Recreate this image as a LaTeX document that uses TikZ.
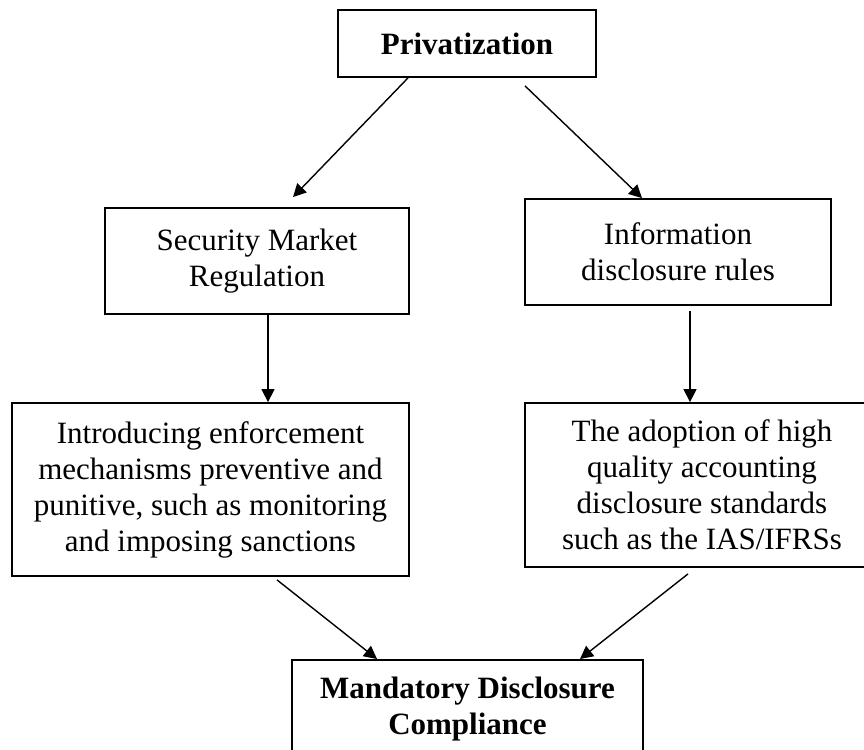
\documentclass[tikz,border=0pt]{standalone}
\usepackage{fontspec}
\setmainfont{Liberation Serif}
\usetikzlibrary{arrows.meta}
\begin{document}
\begin{tikzpicture}[x=1pt, y=-1pt,
  every node/.style={font=\fontsize{31}{36}\selectfont},
  box/.style={draw, line width=1.8pt, inner sep=0pt, align=center},
  link/.style={line width=1.4pt, -{Triangle[length=13pt, width=13pt]}}]
\useasboundingbox (0,0) rectangle (864,749);
\clip (0,0) rectangle (864,749);

% top node
\node[box, minimum width=258, minimum height=67] (priv) at (467,43.5) {\textbf{Privatization}};

% second row
\node[box, minimum width=304, minimum height=106] (smr) at (257,261) {Security Market\\Regulation};
\node[box, minimum width=306, minimum height=106] (info) at (678,252) {Information\\disclosure rules};

% third row
\node[box, minimum width=397, minimum height=173] (intro) at (210.5,489.5)
  {Introducing enforcement\\mechanisms preventive and\\punitive, such as monitoring\\and imposing sanctions};
\node[box, minimum width=354, minimum height=164] (adopt) at (702,485)
  {The adoption of high\\quality accounting\\disclosure standards\\such as the IAS/IFRSs};

% bottom node, running past the lower edge
\node[box, minimum width=351, minimum height=98, anchor=north] (mand) at (467.5,659)
  {\textbf{Mandatory Disclosure}\\\textbf{Compliance}};

% connectors
\draw[link] ([xshift=-59pt]priv.south) -- ([xshift=36pt,yshift=10pt]smr.north);
\draw[link] ([xshift=58pt,yshift=-8pt]priv.south) -- ([xshift=-36pt]info.north);
\draw[link] ([xshift=11pt]smr.south) -- ([xshift=57.5pt]intro.north);
\draw[link] ([xshift=12pt,yshift=-5pt]info.south) -- ([xshift=-12pt]adopt.north);
\draw[link] ([xshift=66.5pt,yshift=-3pt]intro.south) -- ([xshift=-90.5pt]mand.north);
\draw[link] ([xshift=-14pt,yshift=-6pt]adopt.south) -- ([xshift=112.5pt]mand.north);
\end{tikzpicture}
\end{document}
